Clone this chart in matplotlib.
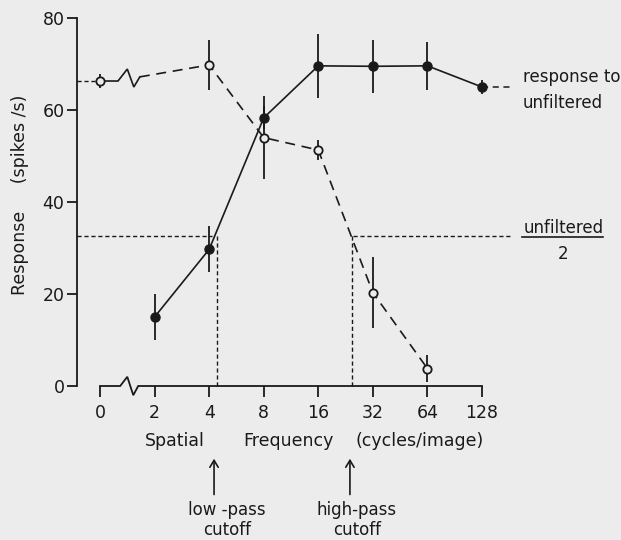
import numpy as np
import matplotlib.pyplot as plt

# spatial frequency tick labels (cycles/image); "0" sits on a broken axis
freq_labels = ['0', '2', '4', '8', '16', '32', '64', '128']
freq_ticks = [0, 2, 4, 8, 16, 32, 64, 128]

# low-pass filtered faces (filled circles, solid line)
lowpass_freq = [2, 4, 8, 16, 32, 64, 128]
lowpass_resp = [15.0, 29.7, 58.3, 69.6, 69.5, 69.6, 65.0]
lowpass_err = [5.0, 5.0, 2.5, 7.0, 5.8, 5.2, 1.5]

# high-pass filtered faces (open circles, dashed line)
highpass_freq = [0, 4, 8, 16, 32, 64]
highpass_resp = [66.3, 69.8, 54.0, 51.3, 20.3, 3.8]
highpass_err = [1.6, 5.5, 9.0, 2.2, 7.7, 2.9]

unfiltered = 65.0
lowpass_cutoff = 4.4
highpass_cutoff = 24.6

bg = '#ececec'
ink = '#1a1a1a'


def pos(f):
    """Octave position on the axis, 0 is put one octave left of 2."""
    f = np.asarray(f, dtype=float)
    return np.where(f > 0, np.log2(np.where(f > 0, f, 1)), 0.0)


plt.rcParams['font.family'] = ['DejaVu Sans']
fig = plt.figure(figsize=(6.21, 5.40), dpi=100, facecolor=bg)
ax = fig.add_axes([77 / 621, 154 / 540, 544 / 621, 368 / 540])
ax.set_facecolor('none')
ax.set_xlim(-23 / 54.57, 521 / 54.57)
ax.set_ylim(0, 80)

for s in ['top', 'right', 'bottom']:
    ax.spines[s].set_visible(False)
ax.spines['left'].set_color(ink)
ax.spines['left'].set_linewidth(1.3)

ax.set_yticks([0, 20, 40, 60, 80])
ax.tick_params(axis='y', direction='out', length=7, width=1.3, colors=ink,
               labelsize=12.5, pad=2)
ax.set_xticks(pos(freq_ticks))
ax.set_xticklabels(freq_labels)
ax.tick_params(axis='x', direction='out', length=8, width=1.3, colors=ink,
               labelsize=12.5, pad=5)

# x axis line with break between 0 and 2
ax.plot([0, 0.37, 0.5, 0.61, 0.70, 7], [0, 0, 2.0, -2.0, 0, 0],
        color=ink, lw=1.3, clip_on=False, solid_joinstyle='miter')

# unfiltered / 2 level and cutoff markers
half = unfiltered / 2
dot = dict(color=ink, lw=1.0, ls=(0, (3, 2)), clip_on=False)
ax.plot([ax.get_xlim()[0], 2.05], [half, half], **dot)
ax.plot([4.64, 7.51], [half, half], **dot)
ax.plot([pos(lowpass_cutoff)] * 2, [0, half], **dot)
ax.plot([pos(highpass_cutoff)] * 2, [0, half], **dot)

# low-pass series
lx = pos(lowpass_freq)
ax.plot(lx, lowpass_resp, color=ink, lw=1.2, zorder=3)
ax.errorbar(lx, lowpass_resp, yerr=lowpass_err, fmt='o', color=ink,
            ms=6.5, elinewidth=1.3, capsize=0, zorder=4)
ax.plot([7, 7.51], [lowpass_resp[-1]] * 2, color=ink, lw=1.1,
        ls=(0, (4, 3)), clip_on=False)

# high-pass series
hx = pos(highpass_freq)
zig_x = [hx[0], 0.33, 0.5, 0.62, 0.73]
zig_y = [highpass_resp[0], highpass_resp[0], 68.9, 65.0, 67.2]
ax.plot(zig_x, zig_y, color=ink, lw=1.2, zorder=3, solid_joinstyle='miter')
ax.plot([zig_x[-1]] + list(hx[1:]), [zig_y[-1]] + highpass_resp[1:],
        color=ink, lw=1.2, ls=(0, (6, 4)), zorder=3)
ax.plot([ax.get_xlim()[0], hx[0]], [highpass_resp[0]] * 2, color=ink, lw=1.0,
        ls=(0, (3, 2)), clip_on=False)
ax.errorbar(hx, highpass_resp, yerr=highpass_err, fmt='o', color=ink,
            mfc=bg, mec=ink, mew=1.3, ms=6, elinewidth=1.3, capsize=0,
            zorder=5)

# labels
ax.text(7.75, 67.2, 'response to', fontsize=12, color=ink, va='center',
        ha='left', clip_on=False)
ax.text(7.75, 61.5, 'unfiltered', fontsize=12, color=ink, va='center',
        ha='left', clip_on=False)
ax.text(8.49, 34.3, 'unfiltered', fontsize=12, color=ink, va='center',
        ha='center', clip_on=False)
ax.plot([7.73, 9.22], [32.3, 32.3], color=ink, lw=1.2, clip_on=False)
ax.text(8.49, 28.8, '2', fontsize=12, color=ink, va='center',
        ha='center', clip_on=False)

ax.text(-1.47, 41.5, 'Response     (spikes /s)', rotation=90, fontsize=12.5,
        color=ink, va='center', ha='center', clip_on=False)
ax.text(1.38, -12, 'Spatial', fontsize=12.5, color=ink, ha='center',
        va='center', clip_on=False)
ax.text(3.45, -12, 'Frequency', fontsize=12.5, color=ink, ha='center',
        va='center', clip_on=False)
ax.text(5.86, -12, '(cycles/image)', fontsize=12.5, color=ink, ha='center',
        va='center', clip_on=False)

for xa, xt, lab in [(2.09, 2.33, 'low -pass'), (4.58, 4.71, 'high-pass')]:
    ax.annotate('', xy=(xa, -15.2), xytext=(xa, -24.2),
                arrowprops=dict(arrowstyle='->,head_length=0.5,head_width=0.3',
                                color=ink, lw=1.2),
                annotation_clip=False)
    ax.text(xt, -27.0, lab, fontsize=12, color=ink, ha='center', va='center',
            clip_on=False)
    ax.text(xt, -31.4, 'cutoff', fontsize=12, color=ink, ha='center',
            va='center', clip_on=False)

fig.savefig('out.png', dpi=100, facecolor=bg)
